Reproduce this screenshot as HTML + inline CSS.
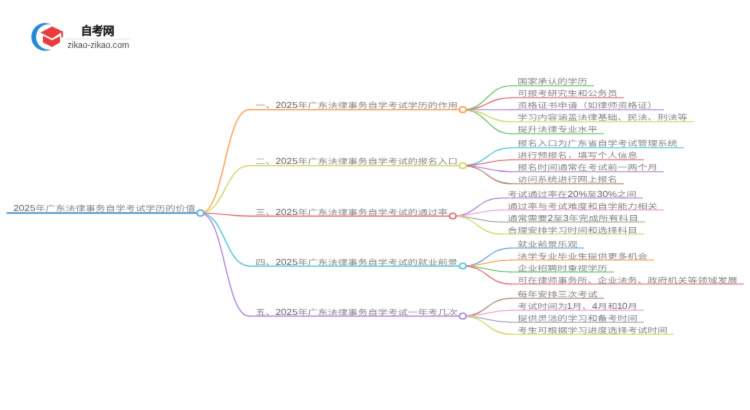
<!DOCTYPE html>
<html lang="zh-CN"><head><meta charset="utf-8">
<style>
html,body{margin:0;padding:0;background:#fff;width:750px;height:410px;overflow:hidden}
svg{display:block}
.t text.d{fill:#646464}
.t text{text-rendering:geometricPrecision;font-family:"Liberation Sans",sans-serif;font-size:10px;font-weight:300;fill:#868686}
</style></head><body><div class="wrap">
<svg width="750" height="410" viewBox="0 0 750 410" font-family="Liberation Sans, sans-serif">
<defs><filter id="bl" x="-1%" y="-1%" width="102%" height="102%"><feConvolveMatrix order="3" kernelMatrix="0.0100 0.0800 0.0100 0.0800 0.6400 0.0800 0.0100 0.0800 0.0100" divisor="1" edgeMode="duplicate"/></filter></defs>
<g filter="url(#bl)">

<g>
 <path d="M51.5,24.5 A13.9,13.9 0 1 0 51.5,49.3 A12.7,12.7 0 1 1 51.5,24.5 Z" fill="#2089d2"/>
 <path d="M40.4,32.4 L52.1,26.6 L62.9,31.6 L52.1,38.6 Z" fill="#ea3b3d"/>
 <path d="M42.9,35.8 L52.1,40.3 L60,36.2 L60,42.4 L52.1,47 L42.9,42.4 Z" fill="#ea3b3d"/>
 <path d="M61.2,31.6 L62.9,31.6 L62.9,37.2 L61.2,37.2 Z" fill="#ea3b3d"/>
</g>
<text x="81" y="35" style="font-size:11.3px;font-weight:bold;fill:#222;stroke:#222;stroke-width:0.12">自考网</text>
<path d="M65,39H131" stroke="#e0e0e0" stroke-width="0.8"/>
<text x="67.5" y="47.8" style="font-size:8.6px;fill:#4a4a4a">zikao-zikao.com</text>

<g fill="none" stroke-linecap="round">
<path d="M7.30,213.00H200.50" stroke="#6aa8d8" stroke-width="2.0"/>
<path d="M200.50,213.00C224.90,213.00 224.90,109.70 249.30,109.70" stroke="#fda055" stroke-width="1.25"/>
<path d="M249.30,109.70H462.74" stroke="#fda055" stroke-width="1.25"/>
<path d="M462.74,109.70C487.09,109.70 487.09,85.70 511.44,85.70" stroke="#6ec26e" stroke-width="1.15"/>
<path d="M511.44,85.70H593.44" stroke="#6ec26e" stroke-width="1.15"/>
<path d="M462.74,109.70C487.09,109.70 487.09,97.70 511.44,97.70" stroke="#e2707a" stroke-width="1.15"/>
<path d="M511.44,97.70H623.44" stroke="#e2707a" stroke-width="1.15"/>
<path d="M462.74,109.70C487.09,109.70 487.09,109.70 511.44,109.70" stroke="#b08ad8" stroke-width="1.15"/>
<path d="M511.44,109.70H663.44" stroke="#b08ad8" stroke-width="1.15"/>
<path d="M462.74,109.70C487.09,109.70 487.09,121.70 511.44,121.70" stroke="#d6d66a" stroke-width="1.15"/>
<path d="M511.44,121.70H693.44" stroke="#d6d66a" stroke-width="1.15"/>
<path d="M462.74,109.70C487.09,109.70 487.09,133.70 511.44,133.70" stroke="#6ec26e" stroke-width="1.15"/>
<path d="M511.44,133.70H603.44" stroke="#6ec26e" stroke-width="1.15"/>
<path d="M200.50,213.00C224.90,213.00 224.90,165.70 249.30,165.70" stroke="#d6d66a" stroke-width="1.25"/>
<path d="M249.30,165.70H462.74" stroke="#d6d66a" stroke-width="1.25"/>
<path d="M462.74,165.70C487.09,165.70 487.09,147.70 511.44,147.70" stroke="#52c8dc" stroke-width="1.15"/>
<path d="M511.44,147.70H683.44" stroke="#52c8dc" stroke-width="1.15"/>
<path d="M462.74,165.70C487.09,165.70 487.09,159.70 511.44,159.70" stroke="#e2707a" stroke-width="1.15"/>
<path d="M511.44,159.70H643.44" stroke="#e2707a" stroke-width="1.15"/>
<path d="M462.74,165.70C487.09,165.70 487.09,171.70 511.44,171.70" stroke="#b08ad8" stroke-width="1.15"/>
<path d="M511.44,171.70H663.44" stroke="#b08ad8" stroke-width="1.15"/>
<path d="M462.74,165.70C487.09,165.70 487.09,183.70 511.44,183.70" stroke="#b48c7c" stroke-width="1.15"/>
<path d="M511.44,183.70H623.44" stroke="#b48c7c" stroke-width="1.15"/>
<path d="M200.50,213.00C224.90,213.00 224.90,216.00 249.30,216.00" stroke="#e2707a" stroke-width="1.25"/>
<path d="M249.30,216.00H452.74" stroke="#e2707a" stroke-width="1.25"/>
<path d="M452.74,216.00C477.09,216.00 477.09,198.00 501.44,198.00" stroke="#b08ad8" stroke-width="1.15"/>
<path d="M501.44,198.00H642.48" stroke="#b08ad8" stroke-width="1.15"/>
<path d="M452.74,216.00C477.09,216.00 477.09,210.00 501.44,210.00" stroke="#eea0d6" stroke-width="1.15"/>
<path d="M501.44,210.00H663.44" stroke="#eea0d6" stroke-width="1.15"/>
<path d="M452.74,216.00C477.09,216.00 477.09,222.00 501.44,222.00" stroke="#a8a8a8" stroke-width="1.15"/>
<path d="M501.44,222.00H644.56" stroke="#a8a8a8" stroke-width="1.15"/>
<path d="M452.74,216.00C477.09,216.00 477.09,234.00 501.44,234.00" stroke="#d6d66a" stroke-width="1.15"/>
<path d="M501.44,234.00H643.44" stroke="#d6d66a" stroke-width="1.15"/>
<path d="M200.50,213.00C224.90,213.00 224.90,266.00 249.30,266.00" stroke="#52c8dc" stroke-width="1.25"/>
<path d="M249.30,266.00H462.74" stroke="#52c8dc" stroke-width="1.25"/>
<path d="M462.74,266.00C487.09,266.00 487.09,248.00 511.44,248.00" stroke="#6aa8d8" stroke-width="1.15"/>
<path d="M511.44,248.00H583.44" stroke="#6aa8d8" stroke-width="1.15"/>
<path d="M462.74,266.00C487.09,266.00 487.09,260.00 511.44,260.00" stroke="#fda055" stroke-width="1.15"/>
<path d="M511.44,260.00H653.44" stroke="#fda055" stroke-width="1.15"/>
<path d="M462.74,266.00C487.09,266.00 487.09,272.00 511.44,272.00" stroke="#6ec26e" stroke-width="1.15"/>
<path d="M511.44,272.00H613.44" stroke="#6ec26e" stroke-width="1.15"/>
<path d="M462.74,266.00C487.09,266.00 487.09,284.00 511.44,284.00" stroke="#e2707a" stroke-width="1.15"/>
<path d="M511.44,284.00H743.44" stroke="#e2707a" stroke-width="1.15"/>
<path d="M200.50,213.00C224.90,213.00 224.90,316.20 249.30,316.20" stroke="#b08ad8" stroke-width="1.25"/>
<path d="M249.30,316.20H462.74" stroke="#b08ad8" stroke-width="1.25"/>
<path d="M462.74,316.20C487.09,316.20 487.09,298.20 511.44,298.20" stroke="#b48c7c" stroke-width="1.15"/>
<path d="M511.44,298.20H603.44" stroke="#b48c7c" stroke-width="1.15"/>
<path d="M462.74,316.20C487.09,316.20 487.09,310.20 511.44,310.20" stroke="#eea0d6" stroke-width="1.15"/>
<path d="M511.44,310.20H643.56" stroke="#eea0d6" stroke-width="1.15"/>
<path d="M462.74,316.20C487.09,316.20 487.09,322.20 511.44,322.20" stroke="#a8a8a8" stroke-width="1.15"/>
<path d="M511.44,322.20H643.44" stroke="#a8a8a8" stroke-width="1.15"/>
<path d="M462.74,316.20C487.09,316.20 487.09,334.20 511.44,334.20" stroke="#d6d66a" stroke-width="1.15"/>
<path d="M511.44,334.20H673.44" stroke="#d6d66a" stroke-width="1.15"/>
</g>
<ellipse cx="462.74" cy="109.70" rx="3.3" ry="2.85" stroke="#fda055" stroke-width="1.5" fill="#fff"/>
<ellipse cx="462.74" cy="165.70" rx="3.3" ry="2.85" stroke="#d6d66a" stroke-width="1.5" fill="#fff"/>
<ellipse cx="452.74" cy="216.00" rx="3.3" ry="2.85" stroke="#e2707a" stroke-width="1.5" fill="#fff"/>
<ellipse cx="462.74" cy="266.00" rx="3.3" ry="2.85" stroke="#52c8dc" stroke-width="1.5" fill="#fff"/>
<ellipse cx="462.74" cy="316.20" rx="3.3" ry="2.85" stroke="#b08ad8" stroke-width="1.5" fill="#fff"/>
<ellipse cx="200.50" cy="213.00" rx="3.4" ry="3.0" stroke="#6aa8d8" stroke-width="1.6" fill="#fff"/>
<g class="t" style="opacity:0.999">
<text class="d" x="13.20 18.76 24.32 29.88" y="0" transform="translate(0 210.80) scale(1 0.88)">2025</text>
<text x="35.44" y="0" transform="translate(0 210.80) scale(1 0.76)">年广东法律事务自学考试学历的价值</text>
<text x="255.50" y="0" transform="translate(0 108.30) scale(1 0.76)">一、</text>
<text class="d" x="275.50 281.06 286.62 292.18" y="0" transform="translate(0 108.30) scale(1 0.88)">2025</text>
<text x="297.74" y="0" transform="translate(0 108.30) scale(1 0.76)">年广东法律事务自学考试学历的作用</text>
<text x="517.44" y="0" transform="translate(0 84.30) scale(1 0.76)">国家承认的学历</text>
<text x="517.44" y="0" transform="translate(0 96.30) scale(1 0.76)">可报考研究生和公务员</text>
<text x="517.44" y="0" transform="translate(0 108.30) scale(1 0.76)">资格证书申请（如律师资格证）</text>
<text x="517.44" y="0" transform="translate(0 120.30) scale(1 0.76)">学习内容涵盖法律基础、民法、刑法等</text>
<text x="517.44" y="0" transform="translate(0 132.30) scale(1 0.76)">提升法律专业水平</text>
<text x="255.50" y="0" transform="translate(0 164.30) scale(1 0.76)">二、</text>
<text class="d" x="275.50 281.06 286.62 292.18" y="0" transform="translate(0 164.30) scale(1 0.88)">2025</text>
<text x="297.74" y="0" transform="translate(0 164.30) scale(1 0.76)">年广东法律事务自学考试的报名入口</text>
<text x="517.44" y="0" transform="translate(0 146.30) scale(1 0.76)">报名入口为广东省自学考试管理系统</text>
<text x="517.44" y="0" transform="translate(0 158.30) scale(1 0.76)">进行预报名，填写个人信息</text>
<text x="517.44" y="0" transform="translate(0 170.30) scale(1 0.76)">报名时间通常在考试前一两个月</text>
<text x="517.44" y="0" transform="translate(0 182.30) scale(1 0.76)">访问系统进行网上报名</text>
<text x="255.50" y="0" transform="translate(0 214.60) scale(1 0.76)">三、</text>
<text class="d" x="275.50 281.06 286.62 292.18" y="0" transform="translate(0 214.60) scale(1 0.88)">2025</text>
<text x="297.74" y="0" transform="translate(0 214.60) scale(1 0.76)">年广东法律事务自学考试的通过率</text>
<text x="507.44" y="0" transform="translate(0 196.60) scale(1 0.76)">考试通过率在</text>
<text class="d" x="567.44 573.00 578.56" y="0" transform="translate(0 196.60) scale(1 0.88)">20%</text>
<text x="586.96" y="0" transform="translate(0 196.60) scale(1 0.76)">至</text>
<text class="d" x="596.96 602.52 608.08" y="0" transform="translate(0 196.60) scale(1 0.88)">30%</text>
<text x="616.48" y="0" transform="translate(0 196.60) scale(1 0.76)">之间</text>
<text x="507.44" y="0" transform="translate(0 208.60) scale(1 0.76)">通过率与考试难度和自学能力相关</text>
<text x="507.44" y="0" transform="translate(0 220.60) scale(1 0.76)">通常需要</text>
<text class="d" x="547.44" y="0" transform="translate(0 220.60) scale(1 0.88)">2</text>
<text x="553.00" y="0" transform="translate(0 220.60) scale(1 0.76)">至</text>
<text class="d" x="563.00" y="0" transform="translate(0 220.60) scale(1 0.88)">3</text>
<text x="568.56" y="0" transform="translate(0 220.60) scale(1 0.76)">年完成所有科目</text>
<text x="507.44" y="0" transform="translate(0 232.60) scale(1 0.76)">合理安排学习时间和选择科目</text>
<text x="255.50" y="0" transform="translate(0 264.60) scale(1 0.76)">四、</text>
<text class="d" x="275.50 281.06 286.62 292.18" y="0" transform="translate(0 264.60) scale(1 0.88)">2025</text>
<text x="297.74" y="0" transform="translate(0 264.60) scale(1 0.76)">年广东法律事务自学考试的就业前景</text>
<text x="517.44" y="0" transform="translate(0 246.60) scale(1 0.76)">就业前景乐观</text>
<text x="517.44" y="0" transform="translate(0 258.60) scale(1 0.76)">法学专业毕业生提供更多机会</text>
<text x="517.44" y="0" transform="translate(0 270.60) scale(1 0.76)">企业招聘时重视学历</text>
<text x="517.44" y="0" transform="translate(0 282.60) scale(1 0.76)">可在律师事务所、企业法务、政府机关等领域发展</text>
<text x="255.50" y="0" transform="translate(0 314.80) scale(1 0.76)">五、</text>
<text class="d" x="275.50 281.06 286.62 292.18" y="0" transform="translate(0 314.80) scale(1 0.88)">2025</text>
<text x="297.74" y="0" transform="translate(0 314.80) scale(1 0.76)">年广东法律事务自学考试一年考几次</text>
<text x="517.44" y="0" transform="translate(0 296.80) scale(1 0.76)">每年安排三次考试</text>
<text x="517.44" y="0" transform="translate(0 308.80) scale(1 0.76)">考试时间为</text>
<text class="d" x="566.84" y="0" transform="translate(0 308.80) scale(1 0.88)">1</text>
<text x="571.94" y="0" transform="translate(0 308.80) scale(1 0.76)">月、</text>
<text class="d" x="591.94" y="0" transform="translate(0 308.80) scale(1 0.88)">4</text>
<text x="597.50" y="0" transform="translate(0 308.80) scale(1 0.76)">月和</text>
<text class="d" x="616.90 622.00" y="0" transform="translate(0 308.80) scale(1 0.88)">10</text>
<text x="627.56" y="0" transform="translate(0 308.80) scale(1 0.76)">月</text>
<text x="517.44" y="0" transform="translate(0 320.80) scale(1 0.76)">提供灵活的学习和备考时间</text>
<text x="517.44" y="0" transform="translate(0 332.80) scale(1 0.76)">考生可根据学习进度选择考试时间</text>
</g>
</g>
</svg></div>
</body></html>
